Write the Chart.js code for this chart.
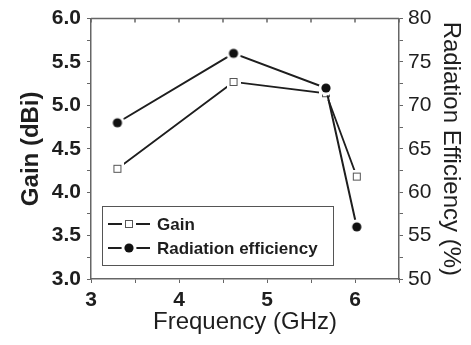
<!DOCTYPE html>
<html>
<head>
<meta charset="utf-8">
<script src="https://cdn.jsdelivr.net/npm/chart.js@4.4.1/dist/chart.umd.min.js"></script>
<style>
  html, body { margin: 0; padding: 0; background: #fff; }
  #wrap { width: 471px; height: 345px; }
</style>
</head>
<body>
<div id="wrap"><canvas id="myChart" width="471" height="345"></canvas></div>
<script>
// values
var freq = [3.3, 4.62, 5.67, 6.02];
var gain = [4.27, 5.27, 5.14, 4.18];
var efficiency = [68, 76, 72, 56];
var seriesNames = ['Gain', 'Radiation efficiency'];

var AXIS = '#666';
var INK = '#1e1e1e';
var FONT = "'Liberation Sans', Arial, sans-serif";

function pts(ys){
    return freq.map(function(f, i){ return {x: f, y: ys[i]}; });
}

// markers with a white halo so the lines stop short of them
function squareMark(){
    var c = document.createElement('canvas');
    c.width = 14; c.height = 14;
    var g = c.getContext('2d');
    g.fillStyle = '#fff';
    g.fillRect(0, 0, 14, 14);
    g.strokeStyle = '#555';
    g.lineWidth = 1;
    g.strokeRect(3.5, 3.5, 7, 7);
    return c;
}
function dotMark(){
    var c = document.createElement('canvas');
    c.width = 16; c.height = 16;
    var g = c.getContext('2d');
    g.fillStyle = '#fff';
    g.beginPath(); g.arc(8, 8, 7.5, 0, Math.PI * 2); g.fill();
    g.fillStyle = '#111';
    g.beginPath(); g.arc(8, 8, 4.6, 0, Math.PI * 2); g.fill();
    return c;
}
var marks = [squareMark(), dotMark()];

// top frame line + ticks, and the boxed legend inside the plot
var framePlugin = {
    id: 'frame',
    afterDraw: function(chart){
        var ctx = chart.ctx, a = chart.chartArea, xs = chart.scales.x;
        ctx.save();
        ctx.strokeStyle = AXIS;
        ctx.lineWidth = 1.5;
        ctx.beginPath();
        ctx.moveTo(a.left, a.top);
        ctx.lineTo(a.right, a.top);
        xs.ticks.forEach(function(t){
            var px = xs.getPixelForValue(t.value);
            ctx.moveTo(px, a.top);
            ctx.lineTo(px, a.top + 4);
        });
        ctx.stroke();

        // legend
        var lx = 102, ly = 206, lw = 231, lh = 59;
        ctx.lineWidth = 1;
        ctx.strokeStyle = '#555';
        ctx.fillStyle = '#fff';
        ctx.fillRect(lx, ly, lw, lh);
        ctx.strokeRect(lx + 0.5, ly + 0.5, lw, lh);
        var rows = [18, 42];
        chart.data.datasets.forEach(function(ds, i){
            var y = ly + rows[i];
            ctx.strokeStyle = INK;
            ctx.lineWidth = 1.8;
            ctx.beginPath();
            ctx.moveTo(lx + 6, y); ctx.lineTo(lx + 48, y);
            ctx.stroke();
            var m = ds.pointStyle;
            ctx.drawImage(m, lx + 27 - m.width / 2, y - m.height / 2);
            ctx.fillStyle = INK;
            ctx.font = 'bold 17px ' + FONT;
            ctx.textBaseline = 'middle';
            ctx.fillText(ds.label, lx + 55, y + 1);
        });
        ctx.restore();
    }
};

var myChart = new Chart(document.getElementById('myChart'), {
    type: 'scatter',
    data: {
        datasets: [{
            label: seriesNames[0],
            data: pts(gain),
            yAxisID: 'y',
            showLine: true,
            borderColor: INK,
            borderWidth: 1.8,
            pointStyle: marks[0],
            order: 2
        }, {
            label: seriesNames[1],
            data: pts(efficiency),
            yAxisID: 'y2',
            showLine: true,
            borderColor: INK,
            borderWidth: 2,
            pointStyle: marks[1],
            order: 1
        }]
    },
    options: {
        responsive: false,
        animation: false,
        devicePixelRatio: 1,
        layout: { padding: { top: 16, left: 0, right: 0, bottom: 0 } },
        plugins: {
            legend: { display: false },
            tooltip: { enabled: false }
        },
        scales: {
            x: {
                type: 'linear',
                min: 3, max: 6.5,
                grid: { drawOnChartArea: false, drawTicks: true, tickLength: 4, color: AXIS, lineWidth: 1 },
                border: { display: true, color: AXIS, width: 1.5 },
                ticks: {
                    stepSize: 0.5, autoSkip: false, maxRotation: 0,
                    padding: 5, color: INK,
                    font: { family: FONT, size: 21, weight: 'bold' },
                    callback: function(v){ return (v % 1 === 0 && v <= 6) ? String(v) : ''; }
                },
                title: {
                    display: true, text: 'Frequency (GHz)', color: INK,
                    font: { family: FONT, size: 24 },
                    padding: { top: 0, bottom: 8 }
                },
                afterFit: function(s){ s.height = 66; }
            },
            y: {
                position: 'left',
                min: 3, max: 6,
                grid: { drawOnChartArea: false, drawTicks: true, tickLength: 4, color: AXIS, lineWidth: 1 },
                border: { display: true, color: AXIS, width: 1.5 },
                ticks: {
                    stepSize: 0.25, autoSkip: false, padding: 6, color: INK,
                    font: { family: FONT, size: 21, weight: 'bold' },
                    callback: function(v){ return (Math.round(v * 4) % 2 === 0) ? v.toFixed(1) : ''; }
                },
                title: {
                    display: true, text: 'Gain (dBi)', color: INK,
                    font: { family: FONT, size: 24, weight: 'bold' },
                    padding: { top: 17, bottom: 0 }
                },
                afterFit: function(s){ s.width = 91; }
            },
            y2: {
                position: 'right',
                min: 50, max: 80,
                grid: { drawOnChartArea: false, drawTicks: true, tickLength: 4, color: AXIS, lineWidth: 1 },
                border: { display: true, color: AXIS, width: 1.5 },
                ticks: {
                    stepSize: 2.5, autoSkip: false, padding: 5, color: INK,
                    font: { family: FONT, size: 21 },
                    callback: function(v){ return (v % 5 === 0) ? String(v) : ''; }
                },
                title: {
                    display: true, text: 'Radiation Efficiency (%)', color: INK,
                    font: { family: FONT, size: 24 },
                    padding: { top: 6, bottom: 0 }
                },
                afterFit: function(s){ s.width = 72; }
            }
        }
    },
    plugins: [framePlugin]
});
</script>
</body>
</html>
